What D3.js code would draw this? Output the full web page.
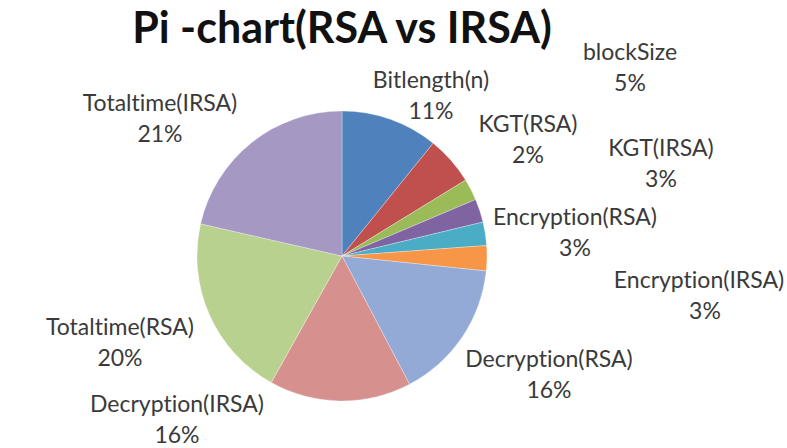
<!DOCTYPE html>
<html>
<head>
<meta charset="utf-8">
<script src="https://cdn.jsdelivr.net/npm/d3@7"></script>
<style>
  html, body { margin: 0; padding: 0; background: #ffffff; overflow: hidden; }
  svg { display: block; }
  text { font-variant-ligatures: none; font-feature-settings: "liga" 0, "clig" 0; }
</style>
</head>
<body>
<svg id="chart" width="787" height="448"></svg>
<script>
// ---- data ----
const categories = ["Bitlength(n)", "blockSize", "KGT(RSA)", "KGT(IRSA)", "Encryption(RSA)",
                    "Encryption(IRSA)", "Decryption(RSA)", "Decryption(IRSA)", "Totaltime(RSA)", "Totaltime(IRSA)"];
const values = [10.8, 5.4, 2.4, 2.6, 2.6, 2.8, 15.6, 15.8, 20.4, 21.4];
const colors = ["#4F81BD", "#C0504D", "#9BBB59", "#8064A2", "#4BACC6",
                "#F79646", "#93A9D6", "#D6908E", "#B8D18F", "#A598C3"];
const title = "Pi -chart(RSA vs IRSA)";

// ---- layout (label anchors, first-line centre; second line x) ----
const labelPos = [[431, 80], [630, 52], [528, 124], [661, 148], [575, 217],
                  [699, 280], [549, 359], [177, 404], [120, 327], [160, 103]];
const pctX = [431, 630, 528, 661, 575, 705, 549, 177, 120, 160];

const W = 787, H = 448;
const cx = 342, cy = 256, R = 145;
const svg = d3.select("#chart");
svg.append("rect").attr("width", W).attr("height", H).attr("fill", "#ffffff");

const total = d3.sum(values);
const pie = d3.pie().sort(null).value(d => d.v);
const arc = d3.arc().innerRadius(0).outerRadius(R);
const data = categories.map((c, i) => ({ c, v: values[i], i }));
const color = d3.scaleOrdinal().domain(categories).range(colors);

const g = svg.append("g").attr("transform", `translate(${cx},${cy})`);
g.selectAll("path").data(pie(data)).join("path")
  .attr("d", arc)
  .attr("fill", d => color(d.data.c))
  .attr("stroke", "#ffffff")
  .attr("stroke-opacity", 0.5)
  .attr("stroke-width", 0.6);

svg.append("text")
  .attr("x", 342).attr("y", 43)
  .attr("text-anchor", "middle")
  .attr("font-family", "Lato, 'Open Sans', sans-serif")
  .attr("font-weight", "bold")
  .attr("font-size", 43)
  .attr("fill", "#111111")
  .text(title);

const fmt = d => Math.round(d / total * 100) + "%";
const lbl = svg.append("g")
  .attr("font-family", "Lato, 'Open Sans', sans-serif")
  .attr("font-size", 23)
  .attr("fill", "#3a3a3a")
  .attr("text-anchor", "middle");
data.forEach((d, i) => {
  const [x, y] = labelPos[i];
  lbl.append("text").attr("x", x).attr("y", y + 8).text(d.c);
  lbl.append("text").attr("x", pctX[i]).attr("y", y + 39).text(fmt(d.v));
});
</script>
</body>
</html>
